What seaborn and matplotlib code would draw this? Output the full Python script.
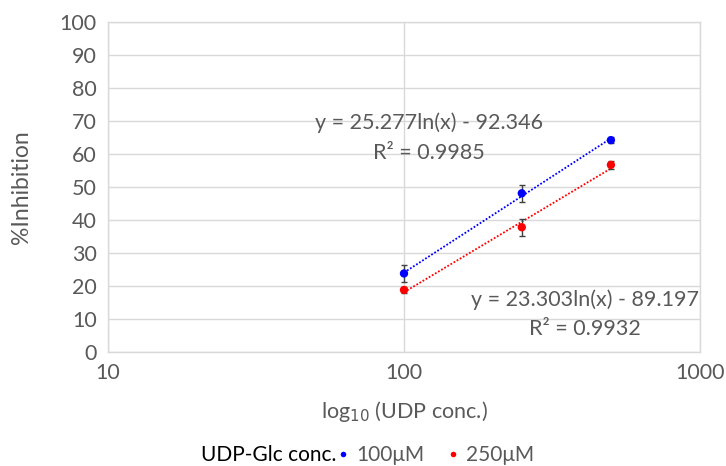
import numpy as np
import pandas as pd
import matplotlib
matplotlib.use("Agg")
import matplotlib.pyplot as plt
import seaborn as sns
from matplotlib.lines import Line2D

# UDP concentrations (µM) and % inhibition for each UDP-Glc level
udp_conc = [100, 250, 500]
inhib_100 = [23.8, 48.1, 64.2]
err_100 = [2.5, 2.5, 0.9]
inhib_250 = [18.8, 37.8, 56.7]
err_250 = [1.0, 2.6, 1.2]

# logarithmic fit coefficients (y = a ln(x) + b) and R²
fit_100 = (25.277, -92.346, 0.9985)
fit_250 = (23.303, -89.197, 0.9932)

series_names = ["100μM", "250μM"]
series_colors = ["#0000ff", "#ff0000"]

sns.set_theme(style="whitegrid")
plt.rcParams["font.family"] = ["Lato", "DejaVu Sans"]

grey = "#595959"
fig = plt.figure(figsize=(7.26, 4.66), dpi=100)
ax = fig.add_axes([108 / 726, (466 - 352) / 466, (700 - 108) / 726, (352 - 22) / 466])

df = pd.DataFrame({
    "conc": udp_conc * 2,
    "inhibition": inhib_100 + inhib_250,
    "err": err_100 + err_250,
    "series": [series_names[0]] * 3 + [series_names[1]] * 3,
})

palette = dict(zip(series_names, series_colors))

# dotted trendlines over the measured range
for name, (a, b, _) in zip(series_names, [fit_100, fit_250]):
    xs = np.linspace(min(udp_conc), max(udp_conc), 100)
    ax.plot(xs, a * np.log(xs) + b, linestyle=(0, (1, 1)), color=palette[name], lw=1.3, zorder=2)

# error bars
for name in series_names:
    sub = df[df.series == name]
    ax.errorbar(sub.conc, sub.inhibition, yerr=sub.err, fmt="none",
                ecolor="#404040", elinewidth=1.0, capsize=2.5, capthick=1.0, zorder=3)

sns.scatterplot(data=df, x="conc", y="inhibition", hue="series", palette=palette,
                s=36, edgecolor="none", legend=False, ax=ax, zorder=4)

ax.set_xscale("log")
ax.set_xlim(10, 1000)
ax.set_ylim(0, 100)
ax.set_yticks(range(0, 101, 10))
ax.set_xticks([10, 100, 1000])
ax.set_xticklabels(["10", "100", "1000"])
ax.minorticks_off()
ax.grid(True, color="#d9d9d9", lw=1.0)
for s in ax.spines.values():
    s.set_color("#d9d9d9")
    s.set_linewidth(1.0)
ax.tick_params(axis="both", colors=grey, labelsize=15.5, length=0, pad=8)
ax.set_xlabel("")
ax.set_ylabel("")

fig.text(22 / 726, 1 - 187 / 466, "%Inhibition", rotation=90, ha="center", va="center",
         color=grey, fontsize=16.5)
fig.text(404 / 726, 1 - 412 / 466, r"log$_{10}$ (UDP conc.)", ha="center", va="center",
         color=grey, fontsize=15.5)

# fit equations
for (a, b, r2), (cx, cy1, cy2) in zip([fit_100, fit_250], [(429, 123, 153), (585, 300, 329)]):
    fig.text(cx / 726, 1 - cy1 / 466, f"y = {a:.3f}ln(x) - {abs(b):.3f}", ha="center",
             va="center", color=grey, fontsize=15.5)
    fig.text(cx / 726, 1 - cy2 / 466, f"R² = {r2:.4f}", ha="center", va="center",
             color=grey, fontsize=15.5)

# legend along the bottom
fig.text(336 / 726, 1 - 455 / 466, "UDP-Glc conc.", ha="right", va="center",
         color="black", fontsize=15)
handles = [Line2D([], [], marker="o", linestyle="none", markersize=4,
                  markerfacecolor=c, markeredgecolor="none") for c in series_colors]
fig.legend(handles, series_names, ncol=2, loc="center left",
           bbox_to_anchor=(333 / 726, 1 - 455 / 466), frameon=False, fontsize=15,
           labelcolor=grey, handletextpad=0.1, handlelength=1.0, columnspacing=0.9,
           borderpad=0, borderaxespad=0)

fig.savefig("out.png", dpi=100)
